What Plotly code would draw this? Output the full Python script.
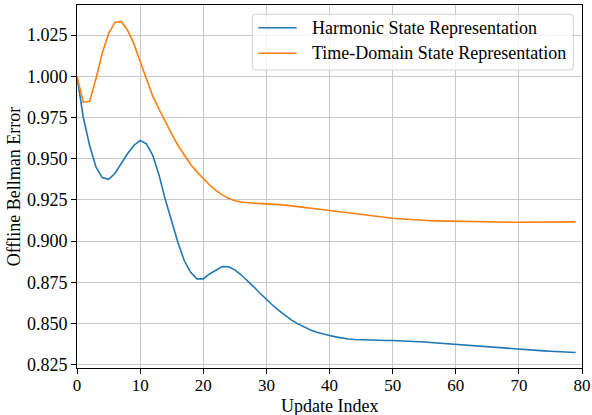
import plotly.graph_objects as go

update_index = list(range(80))

harmonic = [
    1.000, 0.975, 0.958, 0.945, 0.9385, 0.9375, 0.941, 0.947, 0.953, 0.958,
    0.961, 0.959, 0.952, 0.940, 0.925, 0.912, 0.899, 0.888, 0.881, 0.877,
    0.877, 0.880, 0.8825, 0.8845, 0.8843, 0.8825, 0.8795, 0.8760, 0.8722, 0.8683,
    0.8645, 0.8610, 0.8577, 0.8547, 0.8520, 0.8497, 0.8477, 0.8460, 0.8446, 0.8435,
    0.8426, 0.8418, 0.8411, 0.8405, 0.8402, 0.8400, 0.8399, 0.8398, 0.8397, 0.8396,
    0.8396, 0.8395, 0.8393, 0.8391, 0.8389, 0.8387, 0.8384, 0.8381, 0.8378, 0.8375,
    0.8372, 0.8369, 0.8366, 0.8363, 0.8360, 0.8357, 0.8354, 0.8351, 0.8348, 0.8345,
    0.8342, 0.8339, 0.8337, 0.8335, 0.8333, 0.8331, 0.8329, 0.8327, 0.8325, 0.8323,
]

time_domain = [
    1.000, 0.9843, 0.9848, 0.9985, 1.014, 1.026, 1.0327, 1.0333, 1.028, 1.020,
    1.009, 0.998, 0.988, 0.980, 0.972, 0.965, 0.958, 0.952, 0.9465, 0.942,
    0.9378, 0.934, 0.9308, 0.928, 0.926, 0.9245, 0.9237, 0.9232, 0.9229, 0.9227,
    0.9226, 0.9224, 0.9221, 0.9218, 0.9214, 0.9210, 0.9205, 0.9200, 0.9195, 0.9190,
    0.9185, 0.9180, 0.9175, 0.9170, 0.9165, 0.9160, 0.9155, 0.9150, 0.9146, 0.9142,
    0.9138, 0.9135, 0.9132, 0.9129, 0.9127, 0.9125, 0.9123, 0.9122, 0.9121, 0.9120,
    0.9119, 0.9118, 0.9117, 0.9116, 0.9116, 0.9115, 0.9115, 0.9115, 0.9115, 0.9114,
    0.9114, 0.9114, 0.9114, 0.9114, 0.9115, 0.9115, 0.9115, 0.9115, 0.9116, 0.9116,
]

series_names = ["Harmonic State Representation", "Time-Domain State Representation"]
series_colors = ["#1f77b4", "#ff7f0e"]
x_ticks = [0, 10, 20, 30, 40, 50, 60, 70, 80]
y_ticks = [0.825, 0.850, 0.875, 0.900, 0.925, 0.950, 0.975, 1.000, 1.025]

FONT = "Liberation Serif, Times New Roman, serif"

fig = go.Figure()
for name, ys, col in zip(series_names, [harmonic, time_domain], series_colors):
    fig.add_trace(go.Scatter(x=update_index, y=ys, mode="lines", name=name,
                             line=dict(color=col, width=1.6), showlegend=False))

axis_common = dict(
    showline=True, linecolor="black", linewidth=1, mirror=True,
    ticks="outside", ticklen=5, tickcolor="black", tickwidth=1,
    showgrid=True, gridcolor="#c8c8c8", gridwidth=1, zeroline=False,
    automargin=False,
)

fig.update_xaxes(range=[0, 80], tickvals=x_ticks, ticktext=[str(v) for v in x_ticks],
                 ticklabelstandoff=-3, tickfont=dict(family=FONT, size=17, color="black"),
                 **axis_common)
fig.update_yaxes(range=[0.8229, 1.0433], tickvals=y_ticks, ticktext=[f"{v:.3f}" for v in y_ticks],
                 tickfont=dict(family=FONT, size=18, color="black"),
                 title=dict(text="Offline Bellman Error", font=dict(family=FONT, size=18, color="black"), standoff=1),
                 **axis_common)

# x-axis title
fig.add_annotation(text="Update Index", xref="paper", yref="paper", x=0.5, y=-0.1047,
                   xanchor="center", yanchor="middle", showarrow=False,
                   font=dict(family=FONT, size=18, color="black"))

# legend (drawn manually to match sample line lengths)
PW, PH, L, B = 505.0, 363.0, 77.0, 368.0
def px(xp):
    return (xp - L) / PW
def py(yp):
    return (B - yp) / PH

bx0, bx1, by0, by1 = px(252.3), px(573.3), py(70), py(14.3)
rx, ry = 3 / PW, 3 / PH
path = (f"M{bx0+rx},{by1} L{bx1-rx},{by1} Q{bx1},{by1} {bx1},{by1-ry} "
        f"L{bx1},{by0+ry} Q{bx1},{by0} {bx1-rx},{by0} "
        f"L{bx0+rx},{by0} Q{bx0},{by0} {bx0},{by0+ry} "
        f"L{bx0},{by1-ry} Q{bx0},{by1} {bx0+rx},{by1} Z")
fig.add_shape(type="path", path=path, xref="paper", yref="paper",
              line=dict(color="#d0d0d0", width=1), fillcolor="rgba(255,255,255,0.8)", layer="above")

row_y = [27.7, 53.3]
for name, col, ry_px in zip(series_names, series_colors, row_y):
    fig.add_shape(type="line", xref="paper", yref="paper",
                  x0=px(258.3), x1=px(296.7), y0=py(ry_px), y1=py(ry_px),
                  line=dict(color=col, width=1.6), layer="above")
    fig.add_annotation(text=name, xref="paper", yref="paper", x=px(310), y=py(ry_px),
                       xanchor="left", yanchor="middle", showarrow=False,
                       font=dict(family=FONT, size=18, color="black"))

fig.update_layout(
    width=592, height=415,
    margin=dict(l=77, r=10, t=5, b=47),
    paper_bgcolor="white", plot_bgcolor="white",
    font=dict(family=FONT, size=18, color="black"),
    showlegend=False,
)

fig.write_html("out.html")
